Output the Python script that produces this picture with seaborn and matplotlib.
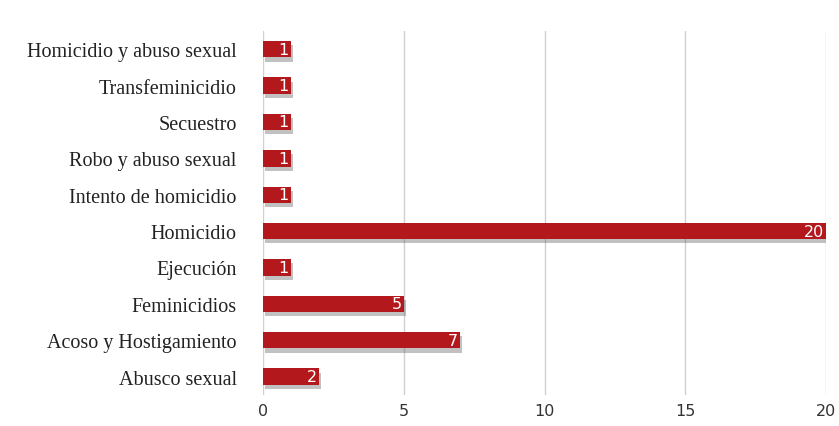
import matplotlib
matplotlib.use("Agg")
import matplotlib.pyplot as plt
import matplotlib.patheffects as pe
import seaborn as sns
import pandas as pd

categories = ["Homicidio y abuso sexual", "Transfeminicidio", "Secuestro",
              "Robo y abuso sexual", "Intento de homicidio", "Homicidio",
              "Ejecución", "Feminicidios", "Acoso y Hostigamiento", "Abusco sexual"]
values = [1, 1, 1, 1, 1, 20, 1, 5, 7, 2]
xticks = [0, 5, 10, 15, 20]

df = pd.DataFrame({"cat": categories, "val": values})

sns.set_theme(style="white")
fig = plt.figure(figsize=(8.39, 4.27), dpi=100)
ax = fig.add_axes([0.3135, 0.073, 0.671, 0.852])

sns.barplot(data=df, x="val", y="cat", orient="h", color="#b3191c",
            saturation=1, width=0.45, ax=ax, zorder=3)
for p in ax.patches:
    p.set_path_effects([pe.SimplePatchShadow(offset=(1.5, -3), shadow_rgbFace="#666666", alpha=0.4),
                        pe.Normal()])
    p.set_edgecolor("none")

for i, v in enumerate(values):
    ax.text(v - 0.08, i, str(v), ha="right", va="center", color="white",
            fontsize=11.5, zorder=5, family="DejaVu Sans")

ax.set_xlim(0, 20)
ax.set_ylim(9.5, -0.5)
ax.set_xticks(xticks)
ax.set_xticklabels([str(t) for t in xticks], fontsize=11.5, color="#333333", family="DejaVu Sans")
ax.set_yticks(range(len(categories)))
ax.set_yticklabels(categories, fontsize=14.5, color="#222222", family="Liberation Serif")
ax.tick_params(axis="y", pad=19, length=0)
ax.tick_params(axis="x", pad=6, length=0)
ax.xaxis.grid(True, color="#d0d0d0", linewidth=1, zorder=0)
ax.set_axisbelow(True)
for s in ax.spines.values():
    s.set_visible(False)
ax.set_xlabel("")
ax.set_ylabel("")

fig.savefig("out.png", dpi=100)
